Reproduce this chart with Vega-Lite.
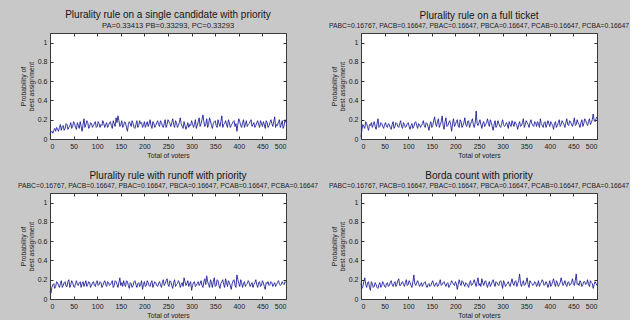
{
  "$schema": "https://vega.github.io/schema/vega-lite/v6.json",
  "autosize": {"type": "pad"},
  "padding": {"left": 17, "top": 9, "right": 0, "bottom": 0},
  "background": "#c8c8c8",
  "data": {"values": [
    {"x":0,"a":0.05,"b":0.02,"c":0.08,"d":0.16},
    {"x":4,"a":0.08,"b":0.15,"c":0.12,"d":0.13},
    {"x":8,"a":0.09,"b":0.11,"c":0.16,"d":0.22},
    {"x":12,"a":0.08,"b":0.16,"c":0.13,"d":0.12},
    {"x":16,"a":0.10,"b":0.09,"c":0.17,"d":0.18},
    {"x":20,"a":0.12,"b":0.14,"c":0.12,"d":0.09},
    {"x":24,"a":0.09,"b":0.12,"c":0.19,"d":0.16},
    {"x":28,"a":0.14,"b":0.18,"c":0.14,"d":0.13},
    {"x":32,"a":0.11,"b":0.10,"c":0.18,"d":0.15},
    {"x":36,"a":0.15,"b":0.21,"c":0.13,"d":0.11},
    {"x":40,"a":0.12,"b":0.13,"c":0.20,"d":0.17},
    {"x":44,"a":0.17,"b":0.16,"c":0.15,"d":0.14},
    {"x":48,"a":0.13,"b":0.11,"c":0.17,"d":0.16},
    {"x":52,"a":0.16,"b":0.17,"c":0.12,"d":0.12},
    {"x":56,"a":0.10,"b":0.12,"c":0.19,"d":0.17},
    {"x":60,"a":0.14,"b":0.15,"c":0.14,"d":0.14},
    {"x":64,"a":0.18,"b":0.10,"c":0.18,"d":0.19},
    {"x":68,"a":0.08,"b":0.18,"c":0.16,"d":0.13},
    {"x":72,"a":0.21,"b":0.13,"c":0.13,"d":0.18},
    {"x":76,"a":0.15,"b":0.16,"c":0.19,"d":0.15},
    {"x":80,"a":0.17,"b":0.12,"c":0.15,"d":0.21},
    {"x":84,"a":0.13,"b":0.19,"c":0.17,"d":0.14},
    {"x":88,"a":0.16,"b":0.11,"c":0.14,"d":0.18},
    {"x":92,"a":0.14,"b":0.15,"c":0.18,"d":0.13},
    {"x":96,"a":0.18,"b":0.13,"c":0.13,"d":0.20},
    {"x":100,"a":0.13,"b":0.17,"c":0.19,"d":0.15},
    {"x":104,"a":0.16,"b":0.10,"c":0.15,"d":0.17},
    {"x":108,"a":0.15,"b":0.16,"c":0.17,"d":0.12},
    {"x":112,"a":0.19,"b":0.13,"c":0.14,"d":0.25},
    {"x":116,"a":0.12,"b":0.18,"c":0.19,"d":0.14},
    {"x":120,"a":0.17,"b":0.11,"c":0.13,"d":0.19},
    {"x":124,"a":0.14,"b":0.15,"c":0.17,"d":0.13},
    {"x":128,"a":0.18,"b":0.14,"c":0.15,"d":0.17},
    {"x":132,"a":0.11,"b":0.19,"c":0.19,"d":0.15},
    {"x":136,"a":0.16,"b":0.12,"c":0.14,"d":0.18},
    {"x":140,"a":0.22,"b":0.16,"c":0.18,"d":0.12},
    {"x":144,"a":0.24,"b":0.09,"c":0.12,"d":0.16},
    {"x":148,"a":0.13,"b":0.18,"c":0.22,"d":0.14},
    {"x":152,"a":0.19,"b":0.14,"c":0.17,"d":0.19},
    {"x":156,"a":0.14,"b":0.23,"c":0.19,"d":0.13},
    {"x":160,"a":0.17,"b":0.13,"c":0.13,"d":0.17},
    {"x":164,"a":0.08,"b":0.21,"c":0.18,"d":0.14},
    {"x":168,"a":0.18,"b":0.15,"c":0.11,"d":0.20},
    {"x":172,"a":0.13,"b":0.24,"c":0.16,"d":0.15},
    {"x":176,"a":0.16,"b":0.10,"c":0.14,"d":0.18},
    {"x":180,"a":0.11,"b":0.22,"c":0.19,"d":0.13},
    {"x":184,"a":0.19,"b":0.14,"c":0.12,"d":0.17},
    {"x":188,"a":0.14,"b":0.19,"c":0.17,"d":0.14},
    {"x":192,"a":0.16,"b":0.08,"c":0.15,"d":0.19},
    {"x":196,"a":0.12,"b":0.21,"c":0.10,"d":0.15},
    {"x":200,"a":0.18,"b":0.15,"c":0.18,"d":0.18},
    {"x":204,"a":0.15,"b":0.20,"c":0.14,"d":0.10},
    {"x":208,"a":0.13,"b":0.12,"c":0.17,"d":0.20},
    {"x":212,"a":0.20,"b":0.18,"c":0.13,"d":0.14},
    {"x":216,"a":0.11,"b":0.14,"c":0.19,"d":0.18},
    {"x":220,"a":0.16,"b":0.22,"c":0.15,"d":0.13},
    {"x":224,"a":0.14,"b":0.13,"c":0.17,"d":0.16},
    {"x":228,"a":0.19,"b":0.19,"c":0.13,"d":0.12},
    {"x":232,"a":0.13,"b":0.15,"c":0.18,"d":0.19},
    {"x":236,"a":0.17,"b":0.21,"c":0.12,"d":0.15},
    {"x":240,"a":0.12,"b":0.12,"c":0.20,"d":0.20},
    {"x":244,"a":0.20,"b":0.29,"c":0.16,"d":0.13},
    {"x":248,"a":0.15,"b":0.14,"c":0.21,"d":0.22},
    {"x":252,"a":0.18,"b":0.20,"c":0.13,"d":0.16},
    {"x":256,"a":0.13,"b":0.11,"c":0.18,"d":0.21},
    {"x":260,"a":0.21,"b":0.18,"c":0.11,"d":0.14},
    {"x":264,"a":0.12,"b":0.15,"c":0.20,"d":0.19},
    {"x":268,"a":0.17,"b":0.21,"c":0.15,"d":0.12},
    {"x":272,"a":0.14,"b":0.13,"c":0.19,"d":0.18},
    {"x":276,"a":0.22,"b":0.17,"c":0.12,"d":0.15},
    {"x":280,"a":0.13,"b":0.09,"c":0.17,"d":0.20},
    {"x":284,"a":0.18,"b":0.19,"c":0.22,"d":0.13},
    {"x":288,"a":0.10,"b":0.14,"c":0.14,"d":0.17},
    {"x":292,"a":0.17,"b":0.16,"c":0.19,"d":0.14},
    {"x":296,"a":0.15,"b":0.12,"c":0.16,"d":0.19},
    {"x":300,"a":0.19,"b":0.20,"c":0.09,"d":0.11},
    {"x":304,"a":0.12,"b":0.13,"c":0.17,"d":0.17},
    {"x":308,"a":0.20,"b":0.17,"c":0.13,"d":0.15},
    {"x":312,"a":0.14,"b":0.11,"c":0.16,"d":0.18},
    {"x":316,"a":0.22,"b":0.15,"c":0.14,"d":0.13},
    {"x":320,"a":0.16,"b":0.19,"c":0.19,"d":0.21},
    {"x":324,"a":0.25,"b":0.13,"c":0.12,"d":0.14},
    {"x":328,"a":0.13,"b":0.16,"c":0.21,"d":0.19},
    {"x":332,"a":0.21,"b":0.10,"c":0.24,"d":0.16},
    {"x":336,"a":0.15,"b":0.18,"c":0.15,"d":0.26},
    {"x":340,"a":0.19,"b":0.14,"c":0.20,"d":0.13},
    {"x":344,"a":0.11,"b":0.21,"c":0.12,"d":0.19},
    {"x":348,"a":0.18,"b":0.15,"c":0.22,"d":0.15},
    {"x":352,"a":0.14,"b":0.17,"c":0.14,"d":0.22},
    {"x":356,"a":0.20,"b":0.12,"c":0.19,"d":0.12},
    {"x":360,"a":0.13,"b":0.20,"c":0.11,"d":0.17},
    {"x":364,"a":0.24,"b":0.14,"c":0.18,"d":0.14},
    {"x":368,"a":0.15,"b":0.18,"c":0.15,"d":0.18},
    {"x":372,"a":0.19,"b":0.13,"c":0.21,"d":0.13},
    {"x":376,"a":0.12,"b":0.16,"c":0.13,"d":0.19},
    {"x":380,"a":0.17,"b":0.21,"c":0.17,"d":0.16},
    {"x":384,"a":0.14,"b":0.14,"c":0.10,"d":0.20},
    {"x":388,"a":0.18,"b":0.17,"c":0.19,"d":0.14},
    {"x":392,"a":0.13,"b":0.12,"c":0.14,"d":0.18},
    {"x":396,"a":0.08,"b":0.19,"c":0.25,"d":0.12},
    {"x":400,"a":0.21,"b":0.13,"c":0.16,"d":0.19},
    {"x":404,"a":0.14,"b":0.16,"c":0.20,"d":0.15},
    {"x":408,"a":0.17,"b":0.10,"c":0.12,"d":0.21},
    {"x":412,"a":0.12,"b":0.18,"c":0.18,"d":0.13},
    {"x":416,"a":0.19,"b":0.14,"c":0.15,"d":0.17},
    {"x":420,"a":0.15,"b":0.20,"c":0.19,"d":0.15},
    {"x":424,"a":0.18,"b":0.15,"c":0.13,"d":0.22},
    {"x":428,"a":0.13,"b":0.17,"c":0.17,"d":0.14},
    {"x":432,"a":0.17,"b":0.12,"c":0.15,"d":0.19},
    {"x":436,"a":0.14,"b":0.21,"c":0.20,"d":0.13},
    {"x":440,"a":0.19,"b":0.14,"c":0.12,"d":0.18},
    {"x":444,"a":0.12,"b":0.18,"c":0.18,"d":0.15},
    {"x":448,"a":0.16,"b":0.13,"c":0.14,"d":0.21},
    {"x":452,"a":0.18,"b":0.22,"c":0.17,"d":0.14},
    {"x":456,"a":0.11,"b":0.15,"c":0.10,"d":0.26},
    {"x":460,"a":0.17,"b":0.17,"c":0.16,"d":0.16},
    {"x":464,"a":0.14,"b":0.12,"c":0.14,"d":0.19},
    {"x":468,"a":0.20,"b":0.20,"c":0.18,"d":0.13},
    {"x":472,"a":0.13,"b":0.16,"c":0.13,"d":0.18},
    {"x":476,"a":0.23,"b":0.19,"c":0.17,"d":0.15},
    {"x":480,"a":0.15,"b":0.14,"c":0.15,"d":0.20},
    {"x":484,"a":0.18,"b":0.21,"c":0.19,"d":0.13},
    {"x":488,"a":0.12,"b":0.17,"c":0.14,"d":0.17},
    {"x":492,"a":0.19,"b":0.26,"c":0.18,"d":0.11},
    {"x":496,"a":0.14,"b":0.18,"c":0.15,"d":0.18},
    {"x":500,"a":0.17,"b":0.23,"c":0.17,"d":0.14},
    {"x":2,"a":0.07,"b":0.10,"c":0.06,"d":0.11},
    {"x":6,"a":0.06,"b":0.13,"c":0.15,"d":0.18},
    {"x":10,"a":0.11,"b":0.18,"c":0.11,"d":0.15},
    {"x":14,"a":0.12,"b":0.12,"c":0.18,"d":0.17},
    {"x":18,"a":0.08,"b":0.15,"c":0.14,"d":0.12},
    {"x":22,"a":0.15,"b":0.17,"c":0.16,"d":0.18},
    {"x":26,"a":0.13,"b":0.15,"c":0.12,"d":0.12},
    {"x":30,"a":0.09,"b":0.13,"c":0.17,"d":0.17},
    {"x":34,"a":0.16,"b":0.16,"c":0.13,"d":0.12},
    {"x":38,"a":0.10,"b":0.12,"c":0.18,"d":0.15},
    {"x":42,"a":0.14,"b":0.17,"c":0.12,"d":0.12},
    {"x":46,"a":0.11,"b":0.13,"c":0.19,"d":0.18},
    {"x":50,"a":0.18,"b":0.15,"c":0.13,"d":0.13},
    {"x":54,"a":0.12,"b":0.13,"c":0.16,"d":0.16},
    {"x":58,"a":0.17,"b":0.16,"c":0.15,"d":0.13},
    {"x":62,"a":0.11,"b":0.12,"c":0.17,"d":0.17},
    {"x":66,"a":0.13,"b":0.15,"c":0.12,"d":0.15},
    {"x":70,"a":0.15,"b":0.11,"c":0.18,"d":0.16},
    {"x":74,"a":0.12,"b":0.17,"c":0.16,"d":0.13},
    {"x":78,"a":0.19,"b":0.13,"c":0.13,"d":0.19},
    {"x":82,"a":0.11,"b":0.16,"c":0.18,"d":0.14},
    {"x":86,"a":0.17,"b":0.13,"c":0.12,"d":0.17},
    {"x":90,"a":0.12,"b":0.17,"c":0.17,"d":0.15},
    {"x":94,"a":0.16,"b":0.12,"c":0.14,"d":0.17},
    {"x":98,"a":0.12,"b":0.16,"c":0.17,"d":0.14},
    {"x":102,"a":0.18,"b":0.13,"c":0.14,"d":0.19},
    {"x":106,"a":0.12,"b":0.14,"c":0.18,"d":0.14},
    {"x":110,"a":0.14,"b":0.11,"c":0.12,"d":0.18},
    {"x":114,"a":0.16,"b":0.17,"c":0.17,"d":0.16},
    {"x":118,"a":0.15,"b":0.14,"c":0.15,"d":0.17},
    {"x":122,"a":0.12,"b":0.16,"c":0.18,"d":0.16},
    {"x":126,"a":0.17,"b":0.12,"c":0.14,"d":0.15},
    {"x":130,"a":0.14,"b":0.16,"c":0.17,"d":0.13},
    {"x":134,"a":0.19,"b":0.14,"c":0.12,"d":0.17},
    {"x":138,"a":0.13,"b":0.17,"c":0.19,"d":0.14},
    {"x":142,"a":0.17,"b":0.13,"c":0.15,"d":0.15},
    {"x":146,"a":0.19,"b":0.15,"c":0.17,"d":0.13},
    {"x":150,"a":0.15,"b":0.12,"c":0.14,"d":0.17},
    {"x":154,"a":0.12,"b":0.19,"c":0.13,"d":0.15},
    {"x":158,"a":0.18,"b":0.16,"c":0.15,"d":0.16},
    {"x":162,"a":0.12,"b":0.18,"c":0.19,"d":0.13},
    {"x":166,"a":0.15,"b":0.12,"c":0.14,"d":0.17},
    {"x":170,"a":0.16,"b":0.18,"c":0.17,"d":0.14},
    {"x":174,"a":0.19,"b":0.14,"c":0.12,"d":0.17},
    {"x":178,"a":0.12,"b":0.18,"c":0.18,"d":0.15},
    {"x":182,"a":0.15,"b":0.13,"c":0.15,"d":0.16},
    {"x":186,"a":0.12,"b":0.17,"c":0.16,"d":0.12},
    {"x":190,"a":0.19,"b":0.15,"c":0.13,"d":0.16},
    {"x":194,"a":0.17,"b":0.16,"c":0.19,"d":0.17},
    {"x":198,"a":0.14,"b":0.13,"c":0.15,"d":0.14},
    {"x":202,"a":0.12,"b":0.18,"c":0.13,"d":0.16},
    {"x":206,"a":0.18,"b":0.14,"c":0.19,"d":0.15},
    {"x":210,"a":0.16,"b":0.20,"c":0.14,"d":0.16},
    {"x":214,"a":0.14,"b":0.12,"c":0.17,"d":0.19},
    {"x":218,"a":0.18,"b":0.17,"c":0.12,"d":0.15},
    {"x":222,"a":0.12,"b":0.15,"c":0.18,"d":0.17},
    {"x":226,"a":0.17,"b":0.18,"c":0.14,"d":0.14},
    {"x":230,"a":0.15,"b":0.12,"c":0.16,"d":0.17},
    {"x":234,"a":0.19,"b":0.18,"c":0.15,"d":0.14},
    {"x":238,"a":0.14,"b":0.15,"c":0.17,"d":0.17},
    {"x":242,"a":0.16,"b":0.17,"c":0.14,"d":0.16},
    {"x":246,"a":0.12,"b":0.16,"c":0.19,"d":0.18},
    {"x":250,"a":0.20,"b":0.17,"c":0.15,"d":0.14},
    {"x":254,"a":0.16,"b":0.15,"c":0.19,"d":0.13},
    {"x":258,"a":0.17,"b":0.16,"c":0.14,"d":0.17},
    {"x":262,"a":0.15,"b":0.13,"c":0.17,"d":0.18},
    {"x":266,"a":0.19,"b":0.17,"c":0.13,"d":0.15},
    {"x":270,"a":0.12,"b":0.16,"c":0.16,"d":0.16},
    {"x":274,"a":0.17,"b":0.20,"c":0.17,"d":0.13},
    {"x":278,"a":0.16,"b":0.13,"c":0.15,"d":0.18},
    {"x":282,"a":0.11,"b":0.15,"c":0.13,"d":0.16},
    {"x":286,"a":0.14,"b":0.12,"c":0.18,"d":0.18},
    {"x":290,"a":0.13,"b":0.19,"c":0.16,"d":0.15},
    {"x":294,"a":0.12,"b":0.13,"c":0.13,"d":0.18},
    {"x":298,"a":0.14,"b":0.16,"c":0.18,"d":0.16},
    {"x":302,"a":0.16,"b":0.15,"c":0.14,"d":0.19},
    {"x":306,"a":0.15,"b":0.14,"c":0.18,"d":0.13},
    {"x":310,"a":0.11,"b":0.15,"c":0.14,"d":0.16},
    {"x":314,"a":0.18,"b":0.18,"c":0.18,"d":0.15},
    {"x":318,"a":0.13,"b":0.13,"c":0.16,"d":0.17},
    {"x":322,"a":0.20,"b":0.16,"c":0.14,"d":0.16},
    {"x":326,"a":0.18,"b":0.18,"c":0.18,"d":0.18},
    {"x":330,"a":0.15,"b":0.14,"c":0.15,"d":0.13},
    {"x":334,"a":0.12,"b":0.15,"c":0.18,"d":0.19},
    {"x":338,"a":0.22,"b":0.13,"c":0.12,"d":0.16},
    {"x":342,"a":0.14,"b":0.17,"c":0.17,"d":0.17},
    {"x":346,"a":0.16,"b":0.12,"c":0.18,"d":0.14},
    {"x":350,"a":0.19,"b":0.19,"c":0.13,"d":0.18},
    {"x":354,"a":0.12,"b":0.15,"c":0.20,"d":0.15},
    {"x":358,"a":0.16,"b":0.17,"c":0.14,"d":0.19},
    {"x":362,"a":0.18,"b":0.16,"c":0.16,"d":0.16},
    {"x":366,"a":0.12,"b":0.13,"c":0.20,"d":0.15},
    {"x":370,"a":0.16,"b":0.17,"c":0.12,"d":0.17},
    {"x":374,"a":0.15,"b":0.18,"c":0.17,"d":0.15},
    {"x":378,"a":0.20,"b":0.12,"c":0.19,"d":0.13},
    {"x":382,"a":0.12,"b":0.16,"c":0.14,"d":0.17},
    {"x":386,"a":0.16,"b":0.12,"c":0.16,"d":0.18},
    {"x":390,"a":0.19,"b":0.18,"c":0.20,"d":0.15},
    {"x":394,"a":0.16,"b":0.15,"c":0.12,"d":0.16},
    {"x":398,"a":0.15,"b":0.16,"c":0.20,"d":0.15},
    {"x":402,"a":0.18,"b":0.18,"c":0.13,"d":0.13},
    {"x":406,"a":0.12,"b":0.14,"c":0.17,"d":0.18},
    {"x":410,"a":0.20,"b":0.16,"c":0.16,"d":0.16},
    {"x":414,"a":0.15,"b":0.12,"c":0.13,"d":0.19},
    {"x":418,"a":0.13,"b":0.17,"c":0.16,"d":0.13},
    {"x":422,"a":0.16,"b":0.13,"c":0.17,"d":0.17},
    {"x":426,"a":0.20,"b":0.19,"c":0.15,"d":0.18},
    {"x":430,"a":0.15,"b":0.15,"c":0.12,"d":0.16},
    {"x":434,"a":0.12,"b":0.17,"c":0.17,"d":0.15},
    {"x":438,"a":0.17,"b":0.15,"c":0.15,"d":0.17},
    {"x":442,"a":0.15,"b":0.19,"c":0.17,"d":0.14},
    {"x":446,"a":0.19,"b":0.15,"c":0.13,"d":0.17},
    {"x":450,"a":0.13,"b":0.17,"c":0.19,"d":0.16},
    {"x":454,"a":0.15,"b":0.14,"c":0.13,"d":0.19},
    {"x":458,"a":0.19,"b":0.20,"c":0.17,"d":0.15},
    {"x":462,"a":0.12,"b":0.15,"c":0.18,"d":0.14},
    {"x":466,"a":0.17,"b":0.17,"c":0.15,"d":0.17},
    {"x":470,"a":0.16,"b":0.13,"c":0.17,"d":0.15},
    {"x":474,"a":0.18,"b":0.21,"c":0.15,"d":0.18},
    {"x":478,"a":0.12,"b":0.16,"c":0.13,"d":0.16},
    {"x":482,"a":0.14,"b":0.18,"c":0.17,"d":0.15},
    {"x":486,"a":0.20,"b":0.15,"c":0.16,"d":0.19},
    {"x":490,"a":0.15,"b":0.20,"c":0.15,"d":0.16},
    {"x":494,"a":0.11,"b":0.19,"c":0.16,"d":0.15},
    {"x":498,"a":0.20,"b":0.21,"c":0.18,"d":0.16}
  ]},
  "bounds": "flush",
  "columns": 2,
  "spacing": {"row": 54, "column": 75},
  "concat": [
    {
      "width": 236, "height": 106,
      "title": {"text": "Plurality rule on a single candidate with priority", "subtitle": "PA=0.33413 PB=0.33293, PC=0.33293", "subtitleFontSize": 7.6},
      "layer": [
        {"mark": {"type": "line", "color": "#20209a", "strokeWidth": 0.9},
         "encoding": {
           "x": {"field": "x", "type": "quantitative", "scale": {"domain": [0, 500], "nice": false}, "axis": {"values": [0,50,100,150,200,250,300,350,400,450,500], "title": "Total of voters"}},
           "y": {"field": "a", "type": "quantitative", "scale": {"domain": [0, 1.1], "nice": false}, "axis": {"values": [0,0.2,0.4,0.6,0.8,1], "format": "~g", "title": ["Probability of", "best assignment"]}}
         }},
        {"mark": {"type": "line", "opacity": 0},
         "encoding": {
           "x": {"field": "x", "type": "quantitative", "axis": {"orient": "top", "values": [0,50,100,150,200,250,300,350,400,450,500], "labels": false, "title": null}},
           "y": {"field": "a", "type": "quantitative", "axis": {"orient": "right", "values": [0,0.2,0.4,0.6,0.8,1], "labels": false, "title": null}}
         }}
      ],
      "resolve": {"axis": {"x": "independent", "y": "independent"}}
    },
    {
      "width": 236, "height": 106,
      "title": {"text": "Plurality rule on a full ticket", "subtitle": "PABC=0.16767, PACB=0.16647, PBAC=0.16647, PBCA=0.16647, PCAB=0.16647, PCBA=0.16647"},
      "layer": [
        {"mark": {"type": "line", "color": "#20209a", "strokeWidth": 0.9},
         "encoding": {
           "x": {"field": "x", "type": "quantitative", "scale": {"domain": [0, 500], "nice": false}, "axis": {"values": [0,50,100,150,200,250,300,350,400,450,500], "title": "Total of voters"}},
           "y": {"field": "b", "type": "quantitative", "scale": {"domain": [0, 1.1], "nice": false}, "axis": {"values": [0,0.2,0.4,0.6,0.8,1], "format": "~g", "title": ["Probability of", "best assignment"]}}
         }},
        {"mark": {"type": "line", "opacity": 0},
         "encoding": {
           "x": {"field": "x", "type": "quantitative", "axis": {"orient": "top", "values": [0,50,100,150,200,250,300,350,400,450,500], "labels": false, "title": null}},
           "y": {"field": "b", "type": "quantitative", "axis": {"orient": "right", "values": [0,0.2,0.4,0.6,0.8,1], "labels": false, "title": null}}
         }}
      ],
      "resolve": {"axis": {"x": "independent", "y": "independent"}}
    },
    {
      "width": 236, "height": 106,
      "title": {"text": "Plurality rule with runoff with priority", "subtitle": "PABC=0.16767, PACB=0.16647, PBAC=0.16647, PBCA=0.16647, PCAB=0.16647, PCBA=0.16647"},
      "layer": [
        {"mark": {"type": "line", "color": "#20209a", "strokeWidth": 0.9},
         "encoding": {
           "x": {"field": "x", "type": "quantitative", "scale": {"domain": [0, 500], "nice": false}, "axis": {"values": [0,50,100,150,200,250,300,350,400,450,500], "title": "Total of voters"}},
           "y": {"field": "c", "type": "quantitative", "scale": {"domain": [0, 1.1], "nice": false}, "axis": {"values": [0,0.2,0.4,0.6,0.8,1], "format": "~g", "title": ["Probability of", "best assignment"]}}
         }},
        {"mark": {"type": "line", "opacity": 0},
         "encoding": {
           "x": {"field": "x", "type": "quantitative", "axis": {"orient": "top", "values": [0,50,100,150,200,250,300,350,400,450,500], "labels": false, "title": null}},
           "y": {"field": "c", "type": "quantitative", "axis": {"orient": "right", "values": [0,0.2,0.4,0.6,0.8,1], "labels": false, "title": null}}
         }}
      ],
      "resolve": {"axis": {"x": "independent", "y": "independent"}}
    },
    {
      "width": 236, "height": 106,
      "title": {"text": "Borda count with priority", "subtitle": "PABC=0.16767, PACB=0.16647, PBAC=0.16647, PBCA=0.16647, PCAB=0.16647, PCBA=0.16647"},
      "layer": [
        {"mark": {"type": "line", "color": "#20209a", "strokeWidth": 0.9},
         "encoding": {
           "x": {"field": "x", "type": "quantitative", "scale": {"domain": [0, 500], "nice": false}, "axis": {"values": [0,50,100,150,200,250,300,350,400,450,500], "title": "Total of voters"}},
           "y": {"field": "d", "type": "quantitative", "scale": {"domain": [0, 1.1], "nice": false}, "axis": {"values": [0,0.2,0.4,0.6,0.8,1], "format": "~g", "title": ["Probability of", "best assignment"]}}
         }},
        {"mark": {"type": "line", "opacity": 0},
         "encoding": {
           "x": {"field": "x", "type": "quantitative", "axis": {"orient": "top", "values": [0,50,100,150,200,250,300,350,400,450,500], "labels": false, "title": null}},
           "y": {"field": "d", "type": "quantitative", "axis": {"orient": "right", "values": [0,0.2,0.4,0.6,0.8,1], "labels": false, "title": null}}
         }}
      ],
      "resolve": {"axis": {"x": "independent", "y": "independent"}}
    }
  ],
  "config": {
    "font": "Liberation Sans",
    "view": {"fill": "white", "stroke": "#3a3a3a", "strokeWidth": 1},
    "title": {"fontSize": 10, "fontWeight": "normal", "color": "#151515", "subtitleFontSize": 6.8, "subtitleColor": "#222222", "subtitlePadding": 2, "offset": 3, "anchor": "middle"},
    "axis": {"grid": false, "domain": false, "tickSize": -3, "tickColor": "#333333", "labelFontSize": 7, "labelColor": "#222222", "labelPadding": 6, "titleFontSize": 6.8, "titleFontWeight": "normal", "titleColor": "#222222", "titlePadding": 3, "titleLineHeight": 8}
  }
}
